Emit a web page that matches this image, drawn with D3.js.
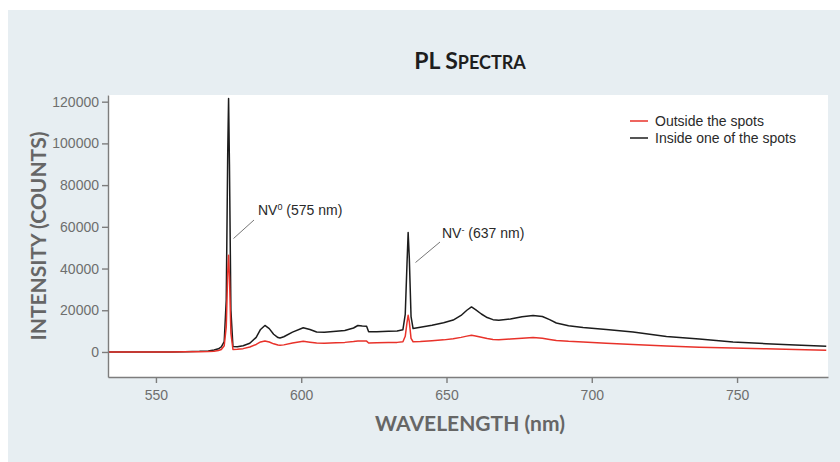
<!DOCTYPE html>
<html lang="en">
<head>
    <meta charset="UTF-8">
    <title>PL Spectra</title>
    <script src="https://d3js.org/d3.v7.min.js"></script>
    <style>
        * {
            margin: 0;
            padding: 0;
            box-sizing: border-box;
        }
        body {
            background: #fff;
            font-family: "Liberation Sans", Arial, sans-serif;
        }
    </style>
</head>
<body>
    <div id="chart"></div>

    <script>
        // wavelength (nm) sample points, shared by both spectra
        const wavelengths = [533.5, 555, 560, 565, 568, 570, 571.5, 572.5, 573.5, 574.2, 574.7, 575, 575.3, 575.8, 576.5,
            578, 580, 582.3, 584.5, 586, 587.5, 589, 590.5, 592, 592.7, 594, 597, 600.7, 603, 605.3, 608, 612, 615,
            618, 619.5, 621, 622.5, 623.2, 626, 630, 633, 635, 635.8, 636.4, 636.8, 637.2, 637.8, 638.5, 641, 645,
            649, 652.3, 655, 657, 658.6, 660, 662, 664, 666, 668, 672, 676, 679.8, 683, 685.5, 687.8, 692, 697, 705,
            714.2, 725.7, 737, 748.6, 760, 770, 780.7];

        // intensity (counts) inside one of the spots
        const inside = [0, 0, 150, 300, 500, 900, 1500, 2400, 5000, 25000, 95000, 121500, 90000, 20000, 2600,
            2500, 3000, 4200, 7000, 10800, 12700, 11200, 8500, 6900, 6700, 7300, 9500, 11600, 10800, 9600, 9400, 9900, 10300,
            11500, 12700, 12400, 12300, 9700, 9700, 9900, 10100, 10700, 18000, 42000, 57300, 45000, 17000, 11200, 11800, 12800,
            14000, 15300, 17500, 20000, 21600, 20300, 18200, 16500, 15500, 15200, 15800, 16900, 17500, 17000, 15500, 13900, 12600, 11700, 10800,
            9600, 7400, 6200, 4800, 4000, 3300, 2700];

        // intensity (counts) outside the spots
        const outside = [0, 0, 50, 100, 200, 400, 700, 1200, 3000, 12000, 38000, 46400, 36000, 9000, 1200,
            1300, 1600, 2400, 3600, 4800, 5300, 4800, 3900, 3300, 3200, 3400, 4300, 5100, 4700, 4300, 4200, 4400, 4600,
            5000, 5300, 5200, 5200, 4300, 4400, 4500, 4600, 4900, 7500, 14000, 17600, 14500, 6500, 4900, 5000, 5400,
            5800, 6300, 7000, 7600, 8000, 7700, 7100, 6500, 6000, 5900, 6200, 6600, 6900, 6600, 6000, 5500, 5100, 4800, 4200,
            3600, 2900, 2300, 1900, 1500, 1200, 800];

        const xTicks = [550, 600, 650, 700, 750];
        const yTicks = [0, 20000, 40000, 60000, 80000, 100000, 120000];

        const seriesNames = ["Outside the spots", "Inside one of the spots"];
        const seriesColors = ["#e8322a", "#1c1c1c"];

        const W = 840, H = 462;
        const margin = { top: 95, right: 12, bottom: 85, left: 108 },
              width = W - margin.left - margin.right,
              height = H - margin.top - margin.bottom;

        const svg = d3.select("#chart")
            .append("svg")
            .attr("width", W)
            .attr("height", H);

        // panel background
        svg.append("rect")
            .attr("x", 8)
            .attr("y", 10)
            .attr("width", W - 8)
            .attr("height", H - 10)
            .attr("fill", "#e7eef2");

        // title, drawn as small caps by hand
        const title = svg.append("text")
            .attr("x", 470)
            .attr("y", 69)
            .attr("text-anchor", "middle")
            .style("font-family", "Lato, 'Open Sans', sans-serif")
            .style("font-weight", "bold")
            .style("fill", "#1e1e1e");
        title.append("tspan").style("font-size", "23px").text("PL S");
        title.append("tspan").style("font-size", "18px").text("PECTRA");

        const g = svg.append("g")
            .attr("transform", `translate(${margin.left},${margin.top})`);

        g.append("rect")
            .attr("width", width)
            .attr("height", height)
            .attr("fill", "#fff");

        const x = d3.scaleLinear()
            .domain([533.5, 781.3])
            .range([0, width]);

        const y = d3.scaleLinear()
            .domain([-12000, 123200])
            .range([height, 0]);

        g.append("clipPath")
            .attr("id", "clip")
            .append("rect")
            .attr("width", width)
            .attr("height", height);

        const line = d3.line()
            .x(d => x(d[0]))
            .y(d => y(d[1]));

        const insideData = wavelengths.map((w, i) => [w, inside[i]]);
        const outsideData = wavelengths.map((w, i) => [w, outside[i]]);

        g.append("path")
            .datum(insideData)
            .attr("clip-path", "url(#clip)")
            .attr("fill", "none")
            .attr("stroke", seriesColors[1])
            .attr("stroke-width", 1.5)
            .attr("stroke-linejoin", "round")
            .attr("d", line);

        g.append("path")
            .datum(outsideData)
            .attr("clip-path", "url(#clip)")
            .attr("fill", "none")
            .attr("stroke", seriesColors[0])
            .attr("stroke-width", 1.5)
            .attr("stroke-linejoin", "round")
            .attr("d", line);

        // axes
        const xAxis = g.append("g")
            .attr("transform", `translate(0,${height})`)
            .call(d3.axisBottom(x).tickValues(xTicks).tickSize(6).tickSizeOuter(0).tickPadding(7));

        const yAxis = g.append("g")
            .call(d3.axisLeft(y).tickValues(yTicks).tickFormat(d3.format("d")).tickSize(6).tickSizeOuter(0).tickPadding(3));

        [xAxis, yAxis].forEach(a => {
            a.selectAll("path, line")
                .attr("stroke", "#7d7d7d")
                .attr("stroke-width", 1.4);
            a.selectAll("text")
                .style("font-family", "'Liberation Sans', Arial, sans-serif")
                .style("font-size", "14px")
                .style("fill", "#6e6e6e");
        });

        g.append("text")
            .attr("x", 470 - margin.left)
            .attr("y", 431 - margin.top)
            .attr("text-anchor", "middle")
            .style("font-family", "Lato, 'Open Sans', sans-serif")
            .style("font-weight", "bold")
            .style("font-size", "21px")
            .style("fill", "#666")
            .text("WAVELENGTH (nm)");

        svg.append("text")
            .attr("transform", "translate(46,236) rotate(-90)")
            .attr("text-anchor", "middle")
            .style("font-family", "Lato, 'Open Sans', sans-serif")
            .style("font-weight", "bold")
            .style("font-size", "21px")
            .style("fill", "#666")
            .text("INTENSITY (COUNTS)");

        // peak annotations
        const notes = [
            { label: "NV", sup: "0", rest: " (575 nm)", from: [233.5, 238.5], to: [254, 220], tx: 258, ty: 215 },
            { label: "NV", sup: "-", rest: " (637 nm)", from: [415.5, 262.5], to: [440, 242], tx: 442, ty: 238 }
        ];

        notes.forEach(n => {
            svg.append("line")
                .attr("x1", n.from[0]).attr("y1", n.from[1])
                .attr("x2", n.to[0]).attr("y2", n.to[1])
                .attr("stroke", "#777")
                .attr("stroke-width", 1);

            const t = svg.append("text")
                .attr("x", n.tx)
                .attr("y", n.ty)
                .style("font-size", "14px")
                .style("fill", "#2a2a2a");
            t.append("tspan").text(n.label);
            t.append("tspan")
                .attr("dy", -5)
                .style("font-size", "9px")
                .text(n.sup);
            t.append("tspan")
                .attr("dy", 5)
                .text(n.rest);
        });

        // legend
        const legend = svg.append("g")
            .attr("transform", "translate(630,121)");

        seriesNames.forEach((name, i) => {
            const row = legend.append("g")
                .attr("transform", `translate(0, ${i * 17})`);
            row.append("line")
                .attr("x1", 0).attr("x2", 18)
                .attr("stroke", seriesColors[i])
                .attr("stroke-width", 1.5);
            row.append("text")
                .attr("x", 25)
                .attr("dy", "0.35em")
                .style("font-size", "14px")
                .style("fill", "#2a2a2a")
                .text(name);
        });
    </script>
</body>
</html>
